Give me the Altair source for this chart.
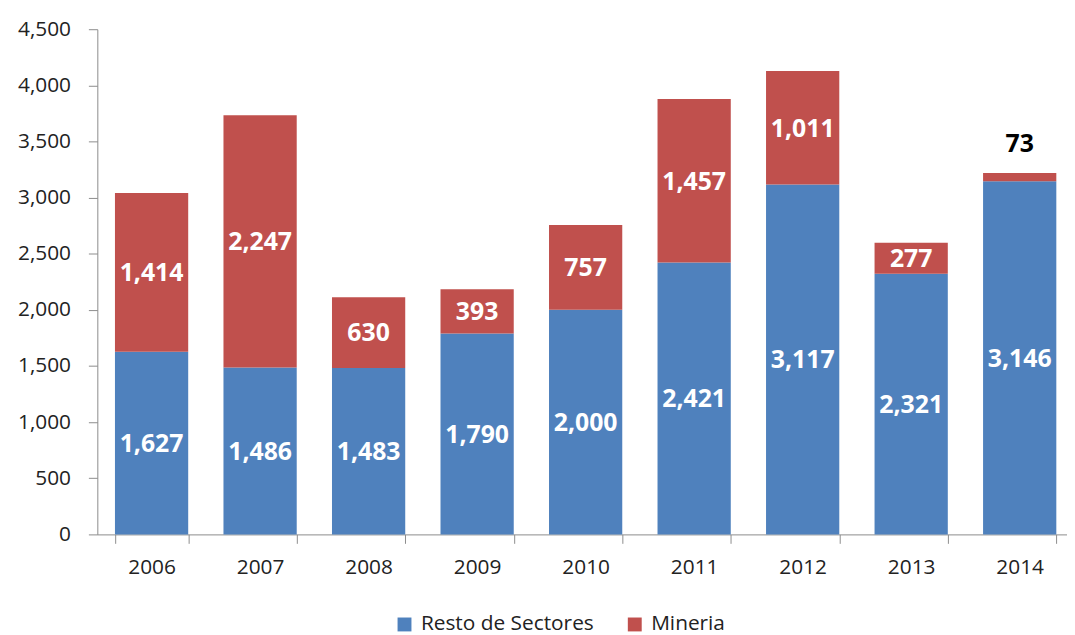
import altair as alt
import pandas as pd

years = ["2006", "2007", "2008", "2009", "2010", "2011", "2012", "2013", "2014"]
resto = [1627, 1486, 1483, 1790, 2000, 2421, 3117, 2321, 3146]
mineria = [1414, 2247, 630, 393, 757, 1457, 1011, 277, 73]
series = ["Resto de Sectores", "Mineria"]
colors = ["#4F81BD", "#C0504D"]
y_ticks = [0, 500, 1000, 1500, 2000, 2500, 3000, 3500, 4000, 4500]

rows = []
for i, yr in enumerate(years):
    base = 0
    for s, vals in zip(series, [resto, mineria]):
        v = vals[i]
        rows.append({"year": yr, "series": s, "value": v, "y0": base, "y1": base + v,
                     "mid": base + v / 2, "order": series.index(s),
                     "inside": not (yr == "2014" and s == "Mineria")})
        base += v
df = pd.DataFrame(rows)

FONT = "Open Sans"

x = alt.X("year:N", title=None, sort=years,
          scale=alt.Scale(range=[0, 984], paddingInner=0.325, paddingOuter=0.1625),
          axis=alt.Axis(labelAngle=0, labelFontSize=21, labelColor="#222222", labelFont=FONT,
                        domainColor="#8c8c8c", tickColor="#8c8c8c", tickSize=9, tickBand="extent",
                        labelPadding=13, grid=False))
y_axis = alt.Axis(values=y_ticks, format=",.0f", labelFontSize=21, labelColor="#222222", labelFont=FONT,
                  domainColor="#8c8c8c", tickColor="#8c8c8c", tickSize=9, labelPadding=18, grid=False)

base = alt.Chart(df)

bars = base.mark_bar().encode(
    x=x,
    y=alt.Y("y1:Q", title=None, scale=alt.Scale(domain=[0, 4500], nice=False), axis=y_axis),
    y2="y0:Q",
    color=alt.Color("series:N", sort=series,
                    scale=alt.Scale(domain=series, range=colors),
                    legend=alt.Legend(title=None, orient="none", direction="horizontal",
                                      legendX=299, legendY=589, symbolType="square",
                                      symbolSize=196, symbolStrokeWidth=0, labelFontSize=21,
                                      labelFont=FONT, labelColor="#222222", labelOffset=6,
                                      labelLimit=400, columnPadding=30)),
    order=alt.Order("order:Q"),
)

inside = base.transform_filter("datum.inside").mark_text(
    color="white", fontWeight="bold", fontSize=25, font=FONT, baseline="middle", dy=1
).encode(x=alt.X("year:N", sort=years), y="mid:Q", text=alt.Text("value:Q", format=","))

outside = base.transform_filter("!datum.inside").mark_text(
    color="black", fontWeight="bold", fontSize=25, font=FONT, baseline="middle", dy=-29
).encode(x=alt.X("year:N", sort=years), y="y1:Q", text=alt.Text("value:Q", format=","))

chart = alt.layer(bars, inside, outside).properties(
    width=977, height=509,
    autosize=alt.AutoSizeParams(type="none"),
    padding={"left": 90, "top": 19, "right": 0, "bottom": 100},
).configure(background="white").configure_view(stroke=None)

chart.save("out.html", embed_options={"renderer": "svg", "actions": False})
